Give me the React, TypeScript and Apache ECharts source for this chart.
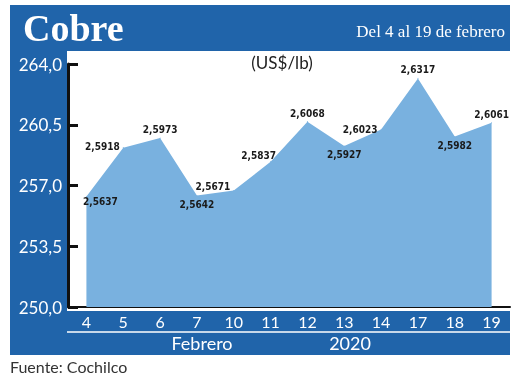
import React, { useEffect, useRef } from "react";
import * as echarts from "echarts";

const categories = ["4", "5", "6", "7", "10", "11", "12", "13", "14", "17", "18", "19"];
const values = [256.37, 259.18, 259.73, 256.42, 256.71, 258.37, 260.68, 259.27, 260.23, 263.17, 259.82, 260.61];
const yTicks = [250, 253.5, 257, 260.5, 264];
const labelPos = ["bottom", "left", "top", "bottom", "left", "top", "top", "bottom", "left", "top", "bottom", "top"];
const labelOffset = [[14, -3], [0, -1], [0, 0], [0, 0], [0, -4], [-12, 2], [0, 0], [0, 0], [0, 0], [0, 0], [0, 0], [0, 0]];

const BLUE = "#2064aa";
const AREA = "#79b1df";

export default function App() {
  const ref = useRef<HTMLDivElement>(null);
  useEffect(() => {
    if (!ref.current) return;
    const chart = echarts.init(ref.current, null, { renderer: "svg" });
    chart.setOption({
      animation: false,
      grid: { left: 68, right: 10, top: 64, bottom: 71, containLabel: false },
      xAxis: {
        type: "category",
        data: categories,
        boundaryGap: true,
        axisLine: { lineStyle: { color: "#111", width: 2 } },
        axisTick: { show: false },
        axisLabel: { color: "#fff", fontSize: 16, fontFamily: "Lato, 'Open Sans', sans-serif", margin: 6 },
      },
      yAxis: {
        type: "value",
        min: 250,
        max: 264,
        splitLine: { show: false },
        axisLine: { show: true, lineStyle: { color: "#111", width: 3 } },
        axisTick: { show: true, inside: true, length: 10, lineStyle: { color: "#111", width: 3 }, customValues: yTicks },
        axisLabel: {
          color: "#fff",
          fontSize: 17,
          fontFamily: "Lato, 'Open Sans', sans-serif",
          margin: 6,
          customValues: yTicks,
          formatter: (v: number) => v.toFixed(1).replace(".", ","),
        },
      },
      series: [
        {
          type: "line",
          data: values.map((v, i) => ({
            value: v,
            label: { position: labelPos[i], offset: labelOffset[i] },
          })),
          symbol: "circle",
          symbolSize: 1,
          showSymbol: true,
          lineStyle: { width: 0, color: AREA },
          itemStyle: { color: AREA },
          areaStyle: { color: AREA, opacity: 1, origin: "start" },
          label: {
            show: true,
            distance: 3,
            color: "#1a1a1a",
            fontSize: 10,
            fontWeight: "bold",
            fontFamily: "'Liberation Sans Narrow', 'DejaVu Sans Condensed', sans-serif",
            formatter: (p: any) => (p.value / 100).toFixed(4).replace(".", ","),
          },
        },
      ],
      graphic: [
        { type: "rect", z: -20, shape: { x: 10, y: 5, width: 500, height: 350 }, style: { fill: BLUE } },
        { type: "rect", z: -19, shape: { x: 67, y: 51, width: 443, height: 260 }, style: { fill: "#fff" } },
        {
          type: "line", z: 5,
          shape: { x1: 67, y1: 332, x2: 510, y2: 332 },
          style: { stroke: "#fff", lineWidth: 1.5 },
        },
        {
          type: "text", z: 5, left: 23, top: 9,
          style: { text: "Cobre", fill: "#fff", font: "bold 38px 'Liberation Serif', 'DejaVu Serif', serif" },
        },
        {
          type: "text", z: 5, x: 505, y: 31,
          style: { text: "Del 4 al 19 de febrero", fill: "#fff", align: "right", verticalAlign: "middle", font: "17px 'Liberation Serif', serif" },
        },
        {
          type: "text", z: 5, x: 282, y: 62,
          style: { text: "(US$/lb)", fill: "#222", align: "center", verticalAlign: "middle", font: "17px Lato, 'Open Sans', sans-serif" },
        },
        {
          type: "text", z: 5, x: 202, y: 343,
          style: { text: "Febrero", fill: "#fff", align: "center", verticalAlign: "middle", font: "18px Lato, 'Open Sans', sans-serif" },
        },
        {
          type: "text", z: 5, x: 350, y: 343,
          style: { text: "2020", fill: "#fff", align: "center", verticalAlign: "middle", font: "18px Lato, 'Open Sans', sans-serif" },
        },
        {
          type: "text", z: 5, x: 10, y: 366,
          style: { text: "Fuente: Cochilco", fill: "#333", align: "left", verticalAlign: "middle", font: "16px Lato, 'Open Sans', sans-serif" },
        },
      ],
    });
    return () => chart.dispose();
  }, []);
  return <div ref={ref} style={{ position: "fixed", left: 0, top: 0, width: 520, height: 378 }} />;
}
